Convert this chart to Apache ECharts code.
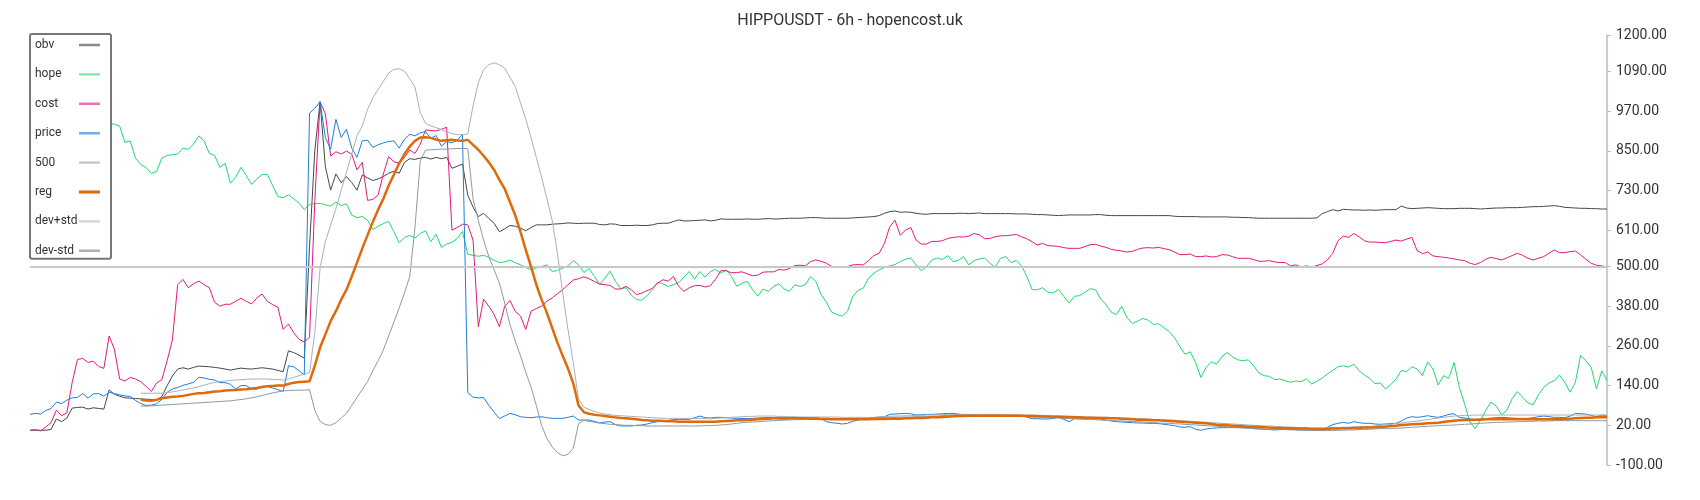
<!DOCTYPE html>
<html>
<head>
<meta charset="utf-8">
<script src="https://cdn.jsdelivr.net/npm/echarts@6/dist/echarts.min.js"></script>
<style>html,body{margin:0;padding:0;background:#fff}#c{width:1700px;height:500px}</style>
</head>
<body>
<div id="c"></div>
<script>
const titleText = 'HIPPOUSDT - 6h - hopencost.uk';
const seriesNames = ['obv', 'hope', 'cost', 'price', '500', 'reg', 'dev+std', 'dev-std'];
const yTicks = [-100, 20, 140, 260, 380, 500, 610, 730, 850, 970, 1090, 1200];
const referenceLevel = 500;

const obv = [
5,5,5,5,8,39,31,42,72,74,
75,69,73,71,69,127,114,108,103,102,
101,100,99,98,97,107,140,169,190,194,
190,195,199,198,197,195,193,190,187,190,
193,191,190,192,194,192,190,186,182,245,
240,232,223,560,850,998,802,731,780,753,
772,754,731,777,768,760,765,772,782,788,
782,815,826,824,828,830,825,830,826,830,
797,803,810,716,680,651,661,645,631,605,
614,624,622,616,608,618,626,626,626,628,
629,630,632,631,630,631,631,631,627,626,
629,628,624,624,624,625,624,624,626,630,
631,631,636,641,638,638,639,640,641,638,
640,644,643,643,643,643,644,643,643,644,
645,644,644,645,646,646,646,647,648,648,
647,646,646,646,646,646,647,648,649,650,
651,654,661,666,668,664,665,664,661,659,
658,660,660,660,660,660,661,661,660,661,
662,660,660,660,660,660,660,659,659,659,
658,657,657,656,655,654,655,656,656,656,
656,656,657,657,655,654,654,654,654,654,
654,654,654,654,654,654,654,652,651,651,
651,651,650,650,650,650,650,650,649,649,
648,648,647,646,646,646,646,646,646,646,
646,646,646,646,647,660,666,672,668,673,
672,671,671,670,671,670,671,672,672,672,
683,677,675,676,677,678,677,676,675,675,
675,676,676,676,675,674,675,676,677,677,
678,678,678,679,680,681,681,682,683,684,
682,679,678,677,676,676,675,675,674,674];

const hope = [
945,950,940,955,948,940,945,938,950,942,
936,945,940,935,938,933,930,925,875,880,
828,808,799,782,787,828,836,838,840,858,
854,870,895,880,842,836,800,812,752,770,
800,775,748,765,778,779,745,712,708,717,
705,692,672,688,690,691,687,683,695,684,
690,655,648,651,640,612,622,630,636,605,
572,588,594,586,600,608,575,598,558,568,
573,585,606,537,534,531,534,528,519,512,
514,519,512,505,497,490,496,500,505,485,
488,495,502,518,505,482,494,470,445,465,
486,455,433,436,414,400,398,412,430,452,
448,440,445,451,468,485,462,485,468,485,
491,480,490,470,440,450,455,430,411,432,
425,440,448,432,425,445,440,445,470,455,
415,392,362,355,350,365,410,428,435,465,
480,490,497,502,506,515,522,526,505,487,
500,520,526,521,533,515,518,530,505,518,
523,526,510,498,525,530,512,518,502,470,
430,430,436,422,420,431,410,390,410,412,
422,433,430,402,385,362,355,380,345,328,
335,343,338,325,327,315,303,285,258,235,
242,210,165,195,212,205,228,240,227,218,
215,218,200,178,170,168,158,160,155,150,
154,152,160,145,153,163,175,186,197,200,
196,205,185,172,162,146,148,130,143,160,
186,182,197,190,170,212,190,142,170,162,
210,135,85,30,10,35,65,90,78,52,
65,100,122,105,88,82,112,135,148,155,
172,150,120,150,232,215,195,130,185,155];

const cost = [
5,7,3,15,28,66,49,58,150,219,
222,210,214,198,192,290,250,160,154,165,
160,152,138,122,148,158,215,278,445,461,
436,448,456,445,436,392,380,386,386,395,
404,395,387,405,417,395,385,377,310,326,
300,280,272,286,700,998,962,834,847,840,
849,840,792,815,700,703,716,780,832,817,
812,830,852,842,870,913,911,910,915,921,
610,618,628,626,580,318,401,380,355,318,
380,397,365,350,310,365,373,380,395,405,
418,430,445,459,463,469,463,455,447,445,
443,432,432,440,430,415,420,427,434,450,
460,456,470,440,425,436,442,443,438,442,
462,488,487,481,482,484,478,472,474,483,
484,484,491,489,494,503,504,502,515,520,
516,510,500,500,499,500,505,506,505,518,
533,540,570,620,640,595,610,618,580,568,
568,576,576,578,585,588,590,589,592,600,
596,584,585,590,593,593,595,597,590,584,
575,565,570,563,562,561,557,555,555,555,
560,566,567,562,558,552,549,547,544,546,
552,556,557,556,558,554,551,544,536,536,
538,530,530,532,529,530,536,535,530,525,
525,525,521,516,516,518,514,512,512,502,
505,498,502,498,503,508,520,540,578,592,
588,600,590,578,574,574,573,572,576,580,
577,583,588,548,539,544,532,530,528,526,
523,520,518,510,506,512,522,528,524,520,
526,533,540,534,525,520,525,530,540,550,
542,542,545,547,535,522,510,504,502,498];

const price = [
53,56,54,65,71,90,86,96,103,104,
116,102,115,116,108,120,116,112,109,107,
95,86,80,81,85,98,120,130,134,141,
145,150,165,163,159,157,149,149,144,130,
140,140,130,129,138,137,133,128,122,200,
197,185,172,964,978,998,890,855,945,890,
915,858,830,880,882,860,868,874,878,880,
858,885,900,895,904,908,888,896,864,878,
874,882,900,119,105,103,104,80,60,40,
48,56,52,46,44,43,45,46,43,41,
41,41,44,48,36,36,36,32,27,30,
31,22,18,18,18,20,21,24,28,31,
33,35,37,38,38,38,43,48,43,42,
44,44,43,42,41,41,40,41,42,43,
44,42,39,38,40,41,41,42,43,44,
40,31,28,26,24,26,32,36,39,41,
43,45,46,53,54,55,56,55,51,52,
53,53,54,55,56,56,54,52,51,50,
49,48,49,50,51,51,50,50,50,45,
40,40,39,39,41,44,38,31,40,40,
40,40,40,39,36,33,31,30,29,28,
27,27,26,26,25,23,21,19,15,14,
16,8,5,9,11,12,13,13,13,13,
13,12,10,9,8,7,6,7,8,8,
7,6,6,6,6,6,14,22,26,29,
26,31,28,26,26,24,23,24,25,26,
33,42,46,44,46,49,46,44,48,53,
55,44,42,39,38,39,40,42,43,44,
43,42,41,41,41,43,46,48,46,44,
44,43,48,56,55,54,50,46,51,49];

const reg = [
null,null,null,null,null,null,null,null,null,null,
null,null,null,null,null,null,null,null,null,null,
null,97,95,94,97,102,104,106,107,109,
112,115,117,118,120,122,123,125,126,127,
128,129,131,133,136,138,139,140,140,145,
149,151,152,153,200,255,295,335,365,400,
430,470,512,555,595,635,672,705,745,778,
812,840,863,880,890,891,889,884,880,882,
883,881,880,883,868,853,835,815,792,762,
735,695,655,605,550,500,445,400,360,315,
270,230,192,147,80,60,55,52,50,48,
46,44,42,41,40,38,36,35,34,34,
33,32,32,31,31,31,31,31,31,31,
31,32,33,34,35,35,36,37,38,39,
40,41,41,41,41,41,41,41,40,40,
39,39,38,38,38,38,38,38,38,38,
39,39,39,40,40,40,41,41,42,42,
43,44,44,45,46,47,48,48,49,49,
49,49,49,49,49,49,49,49,49,48,
48,48,47,47,46,46,45,45,44,44,
43,43,42,42,42,41,41,40,39,38,
37,37,36,35,35,34,33,32,31,30,
29,28,27,26,24,22,21,20,19,18,
17,16,16,15,14,13,12,12,11,11,
10,10,10,9,9,9,9,10,10,11,
11,12,12,13,13,14,15,16,18,19,
21,22,23,24,25,26,27,28,30,32,
34,35,36,36,37,37,38,38,38,38,
38,38,38,38,38,38,38,38,38,38,
38,39,40,41,42,43,43,44,44,44];

const devPlus = [
null,null,null,null,null,null,null,null,null,null,
null,null,null,null,null,null,null,null,null,null,
null,117,117,117,117,117,119,121,124,127,
130,133,137,141,146,150,152,154,156,157,
158,159,160,160,160,160,159,158,157,160,
165,170,175,179,300,495,575,625,675,730,
785,840,895,925,975,1010,1035,1060,1085,1096,
1098,1090,1068,1042,965,933,925,920,914,908,
902,899,898,901,985,1055,1095,1110,1116,1110,
1100,1072,1045,995,945,890,830,770,705,640,
540,420,310,210,100,75,68,62,57,54,
52,50,49,48,47,46,45,44,43,42,
41,41,41,41,41,41,41,40,40,40,
41,42,43,44,45,46,47,47,48,48,
48,48,47,47,46,46,45,45,45,45,
45,45,45,45,44,44,44,44,44,44,
44,45,46,47,48,48,49,49,50,50,
51,51,52,52,53,53,53,53,53,53,
53,53,53,53,53,52,52,52,51,51,
51,50,50,49,49,48,48,47,47,46,
45,45,45,44,44,43,43,42,42,41,
40,40,39,38,37,37,36,35,34,33,
32,31,30,29,28,27,26,25,24,23,
22,21,20,19,18,18,17,16,15,15,
14,13,13,12,12,12,12,13,13,14,
14,15,16,16,17,18,20,21,23,25,
27,29,31,33,35,37,40,42,44,46,
48,49,50,50,51,51,51,51,51,51,
51,51,51,51,51,51,51,51,51,51,
51,51,51,51,51,51,51,51,51,51];

const devMinus = [
null,null,null,null,null,null,null,null,null,null,
null,null,null,null,null,null,null,null,null,null,
null,78,78,79,80,81,82,83,84,85,
86,87,88,89,90,91,92,93,94,96,
98,100,103,106,110,114,118,121,124,125,
126,126,126,128,65,32,22,20,28,42,
56,80,105,128,152,185,215,248,290,332,
375,420,470,620,820,852,853,854,855,855,
856,857,857,857,705,640,580,530,490,450,
390,325,275,230,180,135,80,20,-20,-45,
-62,-72,-68,-50,25,35,32,29,27,25,
23,22,21,20,20,19,19,18,18,18,
18,18,18,18,18,18,18,18,19,19,
20,21,22,24,26,28,29,30,31,32,
33,34,35,36,36,37,37,38,38,38,
38,38,38,38,39,39,40,40,41,41,
42,42,43,43,44,44,45,45,46,46,
46,47,48,49,50,50,51,51,51,51,
51,51,50,50,49,49,48,48,47,46,
45,44,44,43,42,42,41,40,40,39,
38,37,37,36,35,35,34,33,32,31,
31,30,29,28,27,26,26,25,24,23,
22,21,20,19,18,17,16,15,14,13,
12,11,10,9,9,8,8,7,7,6,
6,5,5,5,4,4,4,4,5,5,
6,6,7,7,8,9,10,10,11,11,
12,13,14,15,16,17,18,19,20,20,
21,22,23,24,25,26,27,28,29,29,
30,30,31,31,32,32,33,33,33,34,
34,34,34,34,34,34,34,34,34,34];

const periods = obv.map((_, i) => String(i));

const lineColors = {
  'obv': '#474747', 'hope': '#1fd96e', 'cost': '#e4197c', 'price': '#1f80dc',
  '500': '#c8c8c8', 'reg': '#e06a0a', 'dev+std': '#a7b1b9', 'dev-std': '#8c9aa5'
};
const legendColors = {
  'obv': '#8a8a8a', 'hope': '#7de8a8', 'cost': '#ee70b0', 'price': '#70aeea',
  '500': '#c4c4c4', 'reg': '#d96a0a', 'dev+std': '#d2d6da', 'dev-std': '#a9b2b9'
};
// line-shaped legend icons (tiny invisible corner marks fix the icon box to 21x14)
const thinLineIcon = 'path://M0,0L0.01,0L0.01,0.01Z M0,5.8L21,5.8L21,8.2L0,8.2Z M20.99,13.99L21,13.99L21,14Z';
const thickLineIcon = 'path://M0,0L0.01,0L0.01,0.01Z M0,5.5L21,5.5L21,8.5L0,8.5Z M20.99,13.99L21,13.99L21,14Z';
const seriesData = { 'obv': obv, 'hope': hope, 'cost': cost, 'price': price, 'reg': reg, 'dev+std': devPlus, 'dev-std': devMinus };

const chart = echarts.init(document.getElementById('c'), null, { renderer: 'canvas' });

const series = seriesNames.map(name => {
  const base = {
    name, type: 'line', symbol: 'none', showSymbol: false, smooth: false,
    connectNulls: false, animation: false,
    itemStyle: { color: lineColors[name] },
    lineStyle: { color: lineColors[name], width: 1 },
    emphasis: { disabled: true }
  };
  if (name === '500') {
    base.data = [];
    base.markLine = {
      silent: true, symbol: 'none', label: { show: false },
      lineStyle: { color: lineColors[name], width: 2, type: 'solid' },
      emphasis: { disabled: true },
      data: [{ yAxis: referenceLevel }]
    };
    base.z = 1;
  } else {
    base.data = seriesData[name];
  }
  if (name === 'reg') { base.lineStyle.width = 2.5; base.z = 5; }
  return base;
});

chart.setOption({
  animation: false,
  backgroundColor: '#ffffff',
  title: {
    text: titleText, left: 'center', top: 8,
    textStyle: { fontFamily: 'Roboto', fontSize: 16, fontWeight: 'normal', color: '#333' }
  },
  legend: {
    orient: 'vertical', left: 30, top: 34, align: 'right',
    padding: [4, 11, 1, 5], itemGap: 15.4, itemWidth: 21, itemHeight: 14,
    symbolKeepAspect: true,
    backgroundColor: '#ffffff', borderColor: '#777', borderWidth: 2, borderRadius: 2,
    textStyle: {
      fontFamily: 'Roboto', fontSize: 12, color: '#333',
      rich: { n: { width: 39, align: 'left', fontFamily: 'Roboto', fontSize: 12, color: '#333' } }
    },
    formatter: name => '{n|' + name + '}',
    selectedMode: false,
    data: seriesNames.map(n => ({
      name: n,
      icon: n === 'reg' ? thickLineIcon : thinLineIcon,
      itemStyle: { color: legendColors[n], borderWidth: 0 }
    })),
    z: 10
  },
  grid: { left: 30, right: 93, top: 35, bottom: 35, containLabel: false },
  xAxis: {
    type: 'category', data: periods, boundaryGap: false, show: false
  },
  yAxis: {
    type: 'value', position: 'right', min: -100, max: 1200,
    splitLine: { show: false },
    axisLine: { show: true, lineStyle: { color: '#b3bdc4', width: 1.5 } },
    axisTick: { show: true, length: 4, customValues: yTicks, lineStyle: { color: '#b3bdc4' } },
    axisLabel: {
      customValues: yTicks, margin: 9, color: '#333', fontFamily: 'Roboto', fontSize: 14,
      formatter: v => Number(v).toFixed(2)
    }
  },
  series
});
</script>
</body>
</html>
